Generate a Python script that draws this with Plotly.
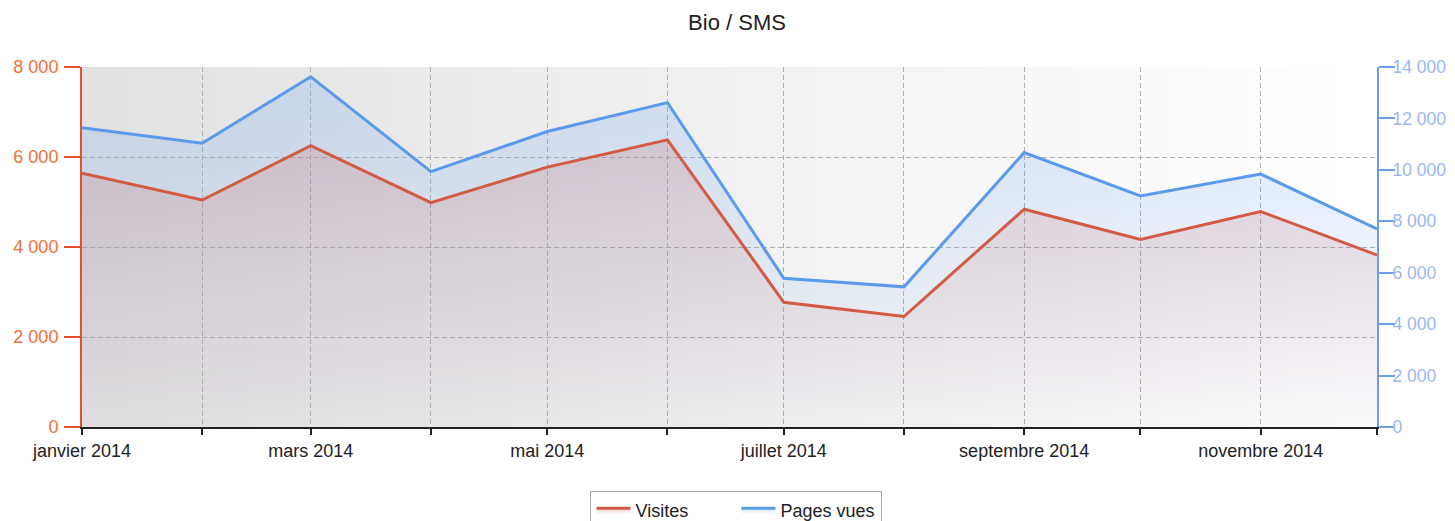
import plotly.graph_objects as go

months = ["2014-01-01", "2014-02-01", "2014-03-01", "2014-04-01", "2014-05-01", "2014-06-01",
          "2014-07-01", "2014-08-01", "2014-09-01", "2014-10-01", "2014-11-01", "2014-12-01"]
month_labels = ["janvier 2014", "", "mars 2014", "", "mai 2014", "", "juillet 2014", "",
                "septembre 2014", "", "novembre 2014", ""]
visites = [5640, 5044, 6250, 4985, 5775, 6380, 2772, 2455, 4840, 4168, 4788, 3822]
pages_vues = [11640, 11035, 13620, 9930, 11490, 12615, 5785, 5450, 10670, 8985, 9835, 7700]

left_ticks = [0, 2000, 4000, 6000, 8000]
right_ticks = [0, 2000, 4000, 6000, 8000, 10000, 12000, 14000]

RED = "#d35a44"
RED_AXIS = "#e8502a"
BLUE = "#5b9aeb"
BLUE_AXIS = "#6a9fe8"
FONT = "Liberation Sans, Arial, sans-serif"

fig = go.Figure()

# Pages vues on primary axis (right side), drawn first
fig.add_trace(go.Scatter(
    x=months, y=pages_vues, name="Pages vues", mode="lines",
    line=dict(color=BLUE, width=3), yaxis="y",
    fill="tozeroy",
    fillgradient=dict(type="vertical", start=0, stop=14000,
                      colorscale=[[0, "rgba(100,160,240,0.02)"], [1, "rgba(100,160,240,0.24)"]]),
))
# Visites on overlaying axis (left side), drawn on top
fig.add_trace(go.Scatter(
    x=months, y=visites, name="Visites", mode="lines",
    line=dict(color=RED, width=3), yaxis="y2",
    fill="tozeroy",
    fillgradient=dict(type="vertical", start=0, stop=8000,
                      colorscale=[[0, "rgba(200,95,90,0.02)"], [1, "rgba(200,95,90,0.26)"]]),
))

# horizontal background gradient of the plot area
n = 60
shapes = []
for i in range(n):
    t = i / (n - 1)
    g = int(round(226 + (255 - 226) * t))
    shapes.append(dict(type="rect", xref="x domain", yref="y domain",
                       x0=i / n, x1=(i + 1) / n + 0.002, y0=0, y1=1,
                       fillcolor=f"rgb({g},{g},{g})", line=dict(width=0), layer="below"))

# the page body adds an 8px offset; the figure is sized to compensate
fig.update_layout(
    width=1447, height=513,
    margin=dict(l=74, r=78, t=59, b=94, autoexpand=False),
    paper_bgcolor="white", plot_bgcolor="white",
    font=dict(family=FONT, size=18, color="#222"),
    separators=", ",
    title=dict(text="Bio / SMS", xref="container", x=0.5038, xanchor="center",
               yref="container", y=0.973, yanchor="middle",
               font=dict(family=FONT, size=22, color="#222")),
    shapes=shapes,
    showlegend=True,
    legend=dict(orientation="h", x=0.5054, xanchor="center", y=-0.178, yanchor="top",
                bordercolor="#aaaaaa", borderwidth=1, bgcolor="white",
                itemwidth=34, entrywidth=96, entrywidthmode="pixels",
                font=dict(family=FONT, size=18, color="#222"), traceorder="reversed"),
    xaxis=dict(
        type="date", range=[months[0], months[-1]],
        tickmode="array", tickvals=months, ticktext=month_labels,
        ticks="outside", ticklen=6, tickwidth=2, tickcolor="#222",
        showline=True, linecolor="#222", linewidth=2,
        showgrid=True, gridcolor="#b0b0b0", griddash="5px,3px", gridwidth=1,
        tickfont=dict(family=FONT, size=18, color="#222"),
        zeroline=False,
    ),
    yaxis=dict(
        side="right", range=[0, 14000], tickvals=right_ticks, tickformat=",",
        showgrid=False, zeroline=False,
        showline=True, linecolor=BLUE_AXIS, linewidth=2,
        ticks="outside", ticklen=16, tickcolor=BLUE_AXIS, tickwidth=2,
        ticklabelstandoff=-6,
        tickfont=dict(family=FONT, size=17.5, color="#9bb7f0"),
    ),
    yaxis2=dict(
        side="left", overlaying="y", range=[0, 8000], tickvals=left_ticks, tickformat=",",
        showgrid=True, gridcolor="#b0b0b0", griddash="5px,3px", gridwidth=1,
        zeroline=False,
        showline=True, linecolor=RED_AXIS, linewidth=2,
        ticks="outside", ticklen=16, tickcolor=RED_AXIS, tickwidth=2,
        ticklabelstandoff=2,
        tickfont=dict(family=FONT, size=18, color="#f07038"),
    ),
)

fig.write_html("out.html")
